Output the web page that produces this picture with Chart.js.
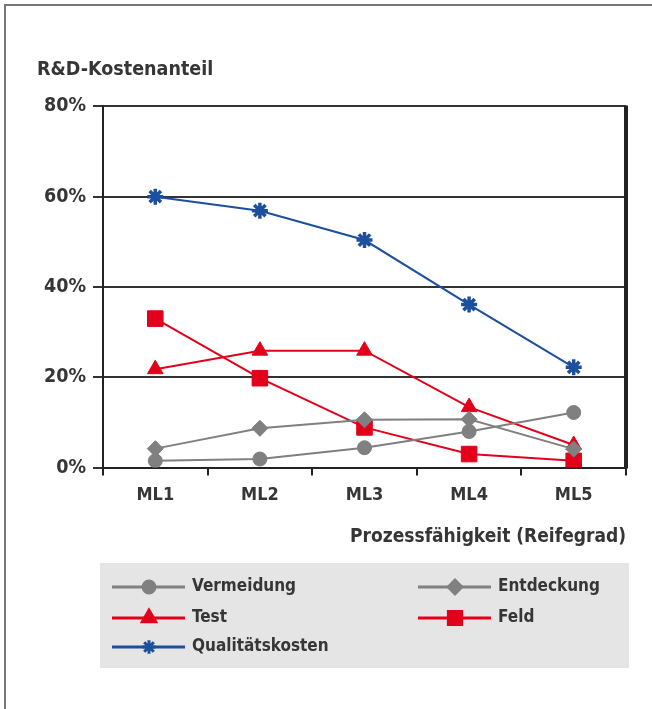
<!DOCTYPE html>
<html>
<head>
<meta charset="utf-8">
<script src="https://cdn.jsdelivr.net/npm/chart.js@4.4.1/dist/chart.umd.min.js"></script>
<style>
  html, body { margin: 0; padding: 0; background: #fff; }
  #wrap { width: 652px; height: 709px; position: relative; }
</style>
</head>
<body>
<div id="wrap"><canvas id="chart" width="652" height="709"></canvas></div>
<script>
// Data
const categories = ['ML1', 'ML2', 'ML3', 'ML4', 'ML5']
const vermeidung = [1.5, 1.9, 4.4, 8.0, 12.2]
const entdeckung = [4.2, 8.7, 10.6, 10.7, 4.1]
const test = [21.8, 25.9, 25.9, 13.4, 5.0]
const feld = [33.0, 19.8, 8.9, 3.0, 1.5]
const qualitaet = [60.0, 56.9, 50.4, 36.1, 22.2]
const yTicks = [0, 20, 40, 60, 80]

const FONT = 'DejaVu Sans Condensed'
const TEXT = '#363636'
const GRAY = '#808080'
const RED = '#e2001a'
const BLUE = '#1c4f9c'

// thin frame around the figure (top and left only, like the scan)
const framePlugin = {
  id: 'frame',
  beforeDraw(chart) {
    const ctx = chart.ctx
    ctx.save()
    ctx.fillStyle = '#ffffff'
    ctx.fillRect(0, 0, chart.width, chart.height)
    ctx.strokeStyle = '#777777'
    ctx.lineWidth = 2
    ctx.beginPath()
    ctx.moveTo(5, chart.height)
    ctx.lineTo(5, 5)
    ctx.lineTo(chart.width, 5)
    ctx.stroke()
    ctx.restore()
  },
  afterDatasetsDraw(chart) {
    // heavy right border of the plot
    const { ctx, chartArea } = chart
    ctx.save()
    ctx.strokeStyle = '#222222'
    ctx.lineWidth = 4
    ctx.beginPath()
    ctx.moveTo(chartArea.right, chartArea.top - 1)
    ctx.lineTo(chartArea.right, chartArea.bottom + 1)
    ctx.stroke()
    ctx.restore()
  }
}

// legend in a grey box, two columns
const boxLegend = {
  id: 'boxLegend',
  afterDraw(chart) {
    const ctx = chart.ctx
    const box = { x: 100, y: 563, w: 529, h: 105 }
    const slots = [
      { x: 112, y: 587 }, { x: 418, y: 587 },
      { x: 112, y: 618 }, { x: 418, y: 618 },
      { x: 112, y: 647 }
    ]
    ctx.save()
    ctx.fillStyle = '#e5e5e6'
    ctx.fillRect(box.x, box.y, box.w, box.h)
    chart.data.datasets.forEach((ds, i) => {
      const s = slots[i]
      ctx.strokeStyle = ds.borderColor
      ctx.lineWidth = 3
      ctx.beginPath()
      ctx.moveTo(s.x, s.y)
      ctx.lineTo(s.x + 73, s.y)
      ctx.stroke()
      ctx.fillStyle = ds.pointBackgroundColor
      ctx.strokeStyle = ds.pointBorderColor
      Chart.helpers.drawPoint(ctx, {
        pointStyle: ds.pointStyle,
        radius: ds.pointRadius * 0.85,
        rotation: 0,
        borderWidth: ds.pointBorderWidth
      }, s.x + 37, s.y)
      ctx.fillStyle = TEXT
      ctx.font = 'bold 17px "' + FONT + '"'
      ctx.textBaseline = 'middle'
      ctx.textAlign = 'left'
      ctx.fillText(ds.label, s.x + 80, s.y)
    })
    ctx.restore()
  }
}

function series(label, data, color, style, radius, bw) {
  return {
    label: label,
    data: data,
    borderColor: color,
    backgroundColor: color,
    borderWidth: 2,
    pointStyle: style,
    pointRadius: radius,
    pointHoverRadius: radius,
    pointBackgroundColor: color,
    pointBorderColor: color,
    pointBorderWidth: bw,
    tension: 0,
    fill: false
  }
}

new Chart(document.getElementById('chart'), {
  type: 'line',
  data: {
    labels: categories,
    datasets: [
      series('Vermeidung', vermeidung, GRAY, 'circle', 7, 1),
      series('Entdeckung', entdeckung, GRAY, 'rectRot', 8, 1),
      series('Test', test, RED, 'triangle', 9, 1),
      series('Feld', feld, RED, 'rect', 11, 1),
      series('Qualitätskosten', qualitaet, BLUE, 'star', 8, 3.5)
    ]
  },
  plugins: [framePlugin, boxLegend],
  options: {
    responsive: false,
    animation: false,
    events: [],
    layout: { padding: { left: 37, top: 58, right: 26, bottom: 161 } },
    plugins: {
      legend: { display: false },
      tooltip: { enabled: false },
      title: {
        display: true,
        text: 'R&D-Kostenanteil',
        align: 'start',
        color: TEXT,
        font: { family: FONT, size: 19.5, weight: 'bold' },
        padding: { top: 0, bottom: 25 }
      }
    },
    scales: {
      x: {
        offset: true,
        grid: {
          display: true,
          offset: true,
          drawOnChartArea: false,
          drawTicks: true,
          tickLength: 8,
          color: '#222222',
          lineWidth: 2
        },
        border: { display: true, color: '#222222', width: 2 },
        ticks: {
          color: TEXT,
          padding: 9,
          font: { family: FONT, size: 18, weight: 'bold' }
        },
        title: {
          display: true,
          text: 'Prozessfähigkeit (Reifegrad)',
          align: 'end',
          color: TEXT,
          font: { family: FONT, size: 19, weight: 'bold' },
          padding: { top: 10, bottom: 0 }
        }
      },
      y: {
        min: 0,
        max: 80,
        afterBuildTicks(axis) {
          axis.ticks = yTicks.map(v => ({ value: v }))
        },
        grid: {
          color: '#333333',
          lineWidth: 2,
          tickLength: 10
        },
        border: { display: true, color: '#222222', width: 2 },
        ticks: {
          color: TEXT,
          padding: 7,
          font: { family: FONT, size: 19.5, weight: 'bold' },
          callback: v => v + '%'
        }
      }
    }
  }
})
</script>
</body>
</html>
